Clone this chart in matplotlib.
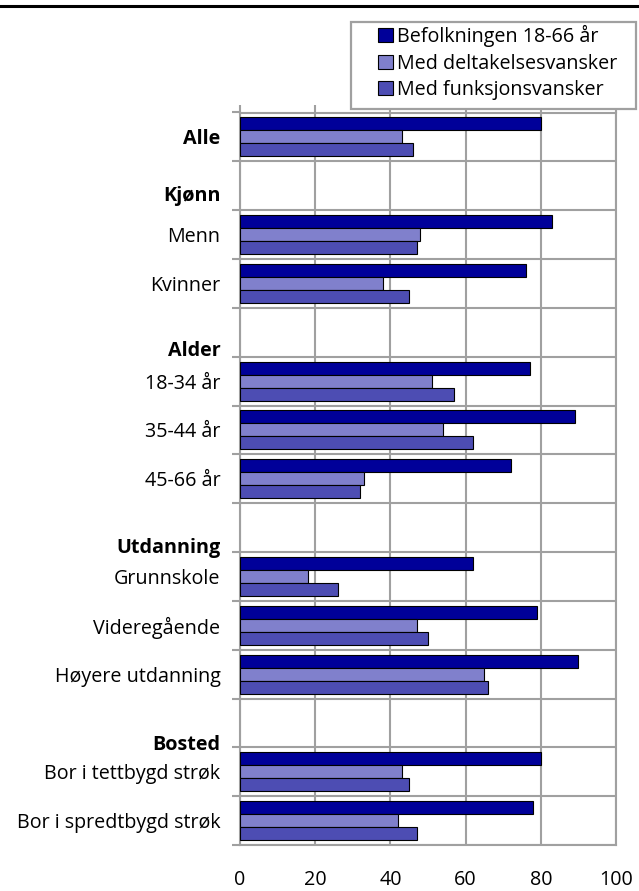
import numpy as np
import matplotlib
matplotlib.use("Agg")
import matplotlib.pyplot as plt
from matplotlib.patches import Rectangle, Patch
from matplotlib.lines import Line2D

plt.rcParams['font.family'] = ['Open Sans', 'DejaVu Sans']

categories = ["Alle", "Kjønn", "Menn", "Kvinner", "Alder", "18-34 år", "35-44 år",
              "45-66 år", "Utdanning", "Grunnskole", "Videregående", "Høyere utdanning",
              "Bosted", "Bor i tettbygd strøk", "Bor i spredtbygd strøk"]
bold_labels = ["Alle", "Kjønn", "Alder", "Utdanning", "Bosted"]
nan = np.nan
befolkningen = [80, nan, 83, 76, nan, 77, 89, 72, nan, 62, 79, 90, nan, 80, 78]
deltakelse = [43, nan, 48, 38, nan, 51, 54, 33, nan, 18, 47, 65, nan, 43, 42]
funksjon = [46, nan, 47, 45, nan, 57, 62, 32, nan, 26, 50, 66, nan, 45, 47]
series_names = ["Befolkningen 18-66 år", "Med deltakelsesvansker", "Med funksjonsvansker"]
x_ticks = [0, 20, 40, 60, 80, 100]

# layout (not data)
colors = ["#000099", "#8080cc", "#4d4db3"]
label_offsets = {"Kjønn": 0.16, "Alder": 0.33, "Utdanning": 0.36, "Bosted": 0.4}
W, H = 639, 891
fs = 14.2

fig = plt.figure(figsize=(W / 100, H / 100), dpi=100)
ax = fig.add_axes([240 / W, 1 - 845 / H, (616 - 240) / W, (845 - 112.5) / H])

y = np.arange(len(categories))
h = 0.267
for k, (vals, c, name) in enumerate(zip([befolkningen, deltakelse, funksjon], colors, series_names)):
    ax.barh(y + (k - 1) * h, vals, height=h, color=c, edgecolor="black",
            linewidth=0.8, label=name, zorder=3)

ax.set_xlim(0, 100)
ax.set_ylim(len(categories) - 0.5, -0.5)

ax.set_xticks(x_ticks)
ax.set_xticklabels([str(t) for t in x_ticks], fontsize=fs)
ax.tick_params(axis="x", which="major", top=True, bottom=False, labelbottom=True,
               labeltop=False, direction="out", length=6, width=1.5, color="#a0a0a0", pad=12)

lab_pos = [i + label_offsets.get(c, 0) for i, c in enumerate(categories)]
ax.set_yticks(lab_pos)
ax.set_yticklabels(categories, fontsize=fs)
for t in ax.get_yticklabels():
    if t.get_text() in bold_labels:
        t.set_fontweight("bold")
ax.tick_params(axis="y", which="major", length=0, pad=14)
ax.set_yticks(np.arange(-0.5, len(categories), 1.0), minor=True)
ax.tick_params(axis="y", which="minor", length=6, width=1.5, color="#a0a0a0", direction="out")

ax.grid(axis="x", which="major", color="#a0a0a0", linewidth=1.5, zorder=1)
ax.grid(axis="y", which="minor", color="#a0a0a0", linewidth=1.5, zorder=1)
ax.set_axisbelow(True)
for s in ax.spines.values():
    s.set_color("#a0a0a0")
    s.set_linewidth(1.5)

# top rule
fig.add_artist(Line2D([0, 1], [1 - 6 / H, 1 - 6 / H], transform=fig.transFigure,
                      color="black", linewidth=2.2))

# legend box
box = Rectangle((351 / W, 1 - 109 / H), (636 - 351) / W, (109 - 22) / H,
                transform=fig.transFigure, facecolor="white", edgecolor="#a0a0a0",
                linewidth=1.6, zorder=2)
fig.add_artist(box)
handles = [Patch(facecolor=c, edgecolor="black", linewidth=0.8) for c in colors]
fig.legend(handles, series_names, loc="upper left",
           bbox_to_anchor=(378 / W, 1 - 25 / H), frameon=False, fontsize=fs,
           borderpad=0, borderaxespad=0, handlelength=0.75, handleheight=0.75,
           handletextpad=0.2, labelspacing=0.33)

fig.savefig("out.png", dpi=100)
